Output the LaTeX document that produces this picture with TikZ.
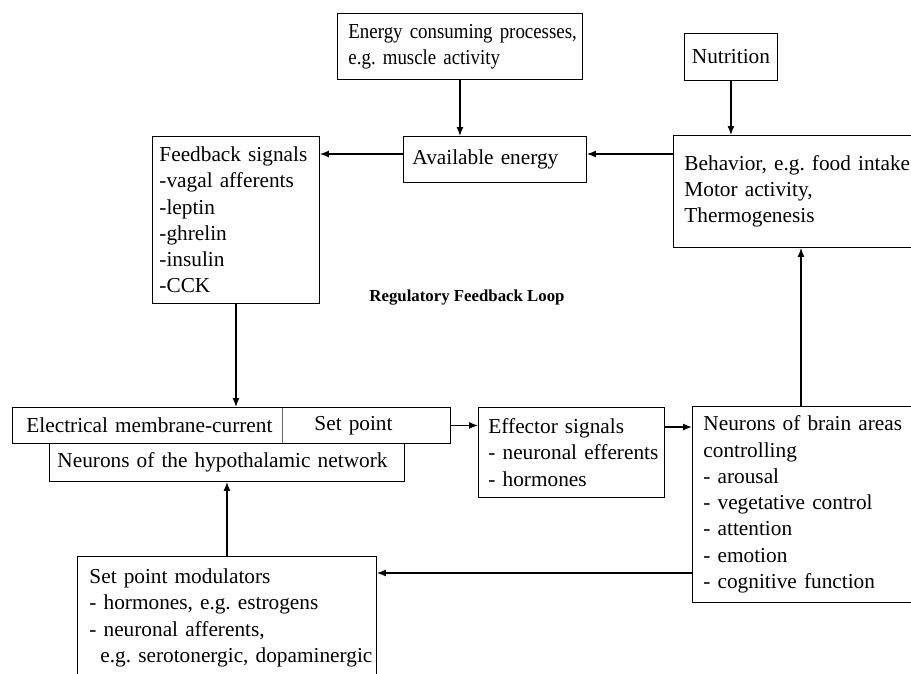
\documentclass[tikz,border=0pt]{standalone}
\usepackage{fontspec}
\setmainfont{Liberation Serif}
\newfontfamily\condfont[FakeStretch=0.887]{Liberation Serif}
\usetikzlibrary{arrows.meta}
\newcommand{\tl}[1]{\mbox{#1}}
\begin{document}
\begin{tikzpicture}[x=1pt,y=-1pt,
  box/.style={draw, line width=0.9pt, anchor=north west, inner ysep=0pt, align=left,
              font=\fontsize{21.3}{26.3}\selectfont\frenchspacing},
  arr/.style={line width=1.3pt, -{Latex[length=9pt,width=7pt]}}]
\useasboundingbox (0,0) rectangle (911,673);
\clip (0,0) rectangle (911,673);
\fill[white] (0,0) rectangle (911,673);

% boxes
\node[box, font=\condfont\fontsize{21.3}{26.3}\selectfont\frenchspacing, minimum height=66pt, inner xsep=11pt, text width=223pt] (energy) at (337,13)
  {\tl{Energy consuming processes,}\\\tl{e.g. muscle activity}};
\node[box, minimum height=47pt, inner xsep=6pt, text width=81pt, align=center] (nutr) at (684,33)
  {\tl{Nutrition}};
\node[box, minimum height=46pt, inner xsep=9pt, text width=165pt] (avail) at (403,136)
  {\tl{Available energy}};
\node[box, minimum height=167pt, inner xsep=7pt, text width=153pt] (fb) at (152,136)
  {\tl{Feedback signals}\\\tl{-vagal afferents}\\\tl{-leptin}\\\tl{-ghrelin}\\\tl{-insulin}\\\tl{-CCK}};
\node[box, minimum height=112pt, inner xsep=11pt, text width=240pt] (beh) at (673,135)
  {\tl{Behavior, e.g. food intake}\\\tl{Motor activity,}\\\tl{Thermogenesis}};

\node[font=\bfseries\fontsize{16.8}{20}\selectfont] (title) at (467,298) {Regulatory Feedback Loop};

\node[box, minimum height=36pt, inner xsep=14pt, text width=242pt] (elec) at (12,407)
  {\tl{Electrical membrane-current}};
\node[box, draw=black!60, minimum height=36pt, inner xsep=32pt, text width=104pt] (setp) at (282,407)
  {\tl{Set point}};
\draw[line width=0.9pt] (elec.north west) rectangle (setp.south east);
\node[box, minimum height=38pt, inner xsep=8pt, text width=339pt] (hyp) at (49,443)
  {\tl{Neurons of the hypothalamic network}};
\node[box, minimum height=90pt, inner xsep=10pt, text width=166pt] (eff) at (478,407)
  {\tl{Effector signals}\\\tl{- neuronal efferents}\\\tl{- hormones}};
\node[box, minimum height=196pt, inner xsep=11pt, text width=216pt] (nb) at (692,406)
  {\tl{Neurons of brain areas}\\\tl{controlling}\\\tl{- arousal}\\\tl{- vegetative control}\\\tl{- attention}\\\tl{- emotion}\\\tl{- cognitive function}};
\node[box, minimum height=123pt, inner xsep=12pt, text width=275pt] (spm) at (77,556)
  {\tl{Set point modulators}\\\tl{- hormones, e.g. estrogens}\\\tl{- neuronal afferents,}\\\tl{\hspace*{11pt}e.g. serotonergic, dopaminergic}};

% connectors
\draw[arr] (energy.south) -- (energy.south |- avail.north);
\draw[arr] (nutr.south) -- (nutr.south |- beh.north);
\draw[arr] ([yshift=-19pt]beh.north west) -- ([yshift=-18pt]avail.north east);
\draw[arr] ([yshift=-18pt]avail.north west) -- ([yshift=-18pt]fb.north east);
\draw[arr] (fb.south) -- (fb.south |- elec.north);
\draw[arr] (setp.east) -- (setp.east -| eff.west);
\draw[arr] ([yshift=-20pt]eff.north east) -- ([yshift=-21pt]nb.north west);
\draw[arr] ([xshift=109pt]nb.north west) -- ([xshift=128pt]beh.south west);
\draw[arr] ([yshift=-167pt]nb.north west) -- ([yshift=-17pt]spm.north east);
\draw[arr] (spm.north) -- (spm.north |- hyp.south);
\end{tikzpicture}
\end{document}
